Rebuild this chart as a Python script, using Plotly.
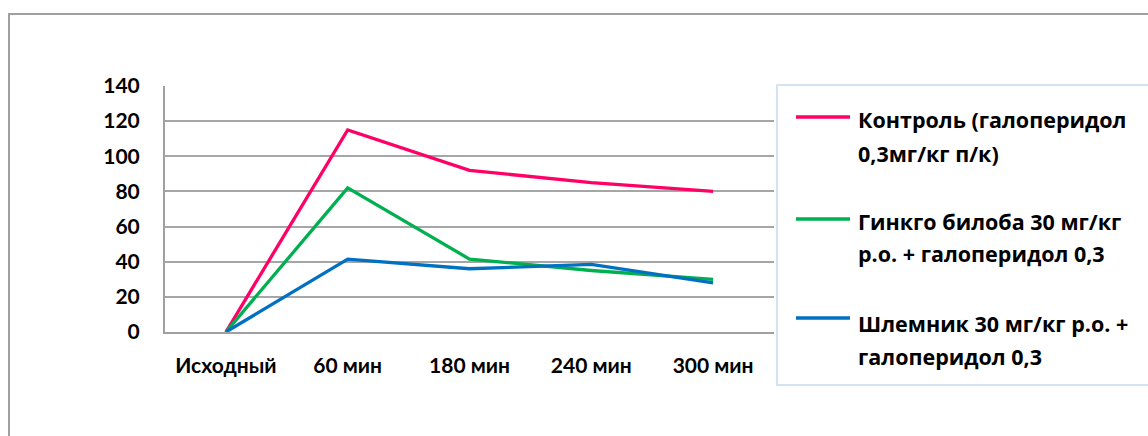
import plotly.graph_objects as go

categories = ["Исходный", "60 мин", "180 мин", "240 мин", "300 мин"]
control = [0, 115, 92, 85, 80]
ginkgo = [0, 82, 41.5, 35, 30]
shlemnik = [0, 41.5, 36, 38.5, 28]
series_names = [
    "Контроль (галоперидол 0,3мг/кг п/к)",
    "Гинкго билоба 30 мг/кг р.о. + галоперидол 0,3",
    "Шлемник 30 мг/кг р.о. + галоперидол 0,3",
]
legend_lines = [
    ["Контроль (галоперидол", "0,3мг/кг п/к)"],
    ["Гинкго билоба 30 мг/кг", "р.о. + галоперидол 0,3"],
    ["Шлемник 30 мг/кг р.о. +", "галоперидол 0,3"],
]
colors = ["#FF0066", "#00B050", "#0070C0"]

W, H = 1148, 436
L, R, T, B = 165, 774, 86, 332

def px(x):
    return (x - L) / (R - L)

def py(y):
    return (B - y) / (B - T)

fig = go.Figure()
for name, vals, col in zip(series_names, [control, ginkgo, shlemnik], colors):
    fig.add_trace(go.Scatter(x=categories, y=vals, mode="lines", name=name,
                             line=dict(color=col, width=3.3), showlegend=False))

TICKFONT = dict(family="Lato", size=21, color="black", weight="bold")
LEGFONT = dict(family="Open Sans", size=21.5, color="black", weight="bold")
shapes = []
annotations = []
# outer chart border
shapes.append(dict(type="rect", xref="paper", yref="paper",
                   x0=px(9), x1=px(1160), y0=py(14), y1=py(450),
                   line=dict(color="#A0A0A0", width=2), fillcolor="rgba(0,0,0,0)", layer="below"))
# legend box
shapes.append(dict(type="rect", xref="paper", yref="paper",
                   x0=px(777), x1=px(1160), y0=py(85), y1=py(385),
                   line=dict(color="#D5E2F2", width=2), fillcolor="white", layer="below"))
line_y = [117, 219, 318]
text_y = [(119, 153), (221, 254), (323, 356)]
for i in range(3):
    shapes.append(dict(type="line", xref="paper", yref="paper",
                       x0=px(796), x1=px(850), y0=py(line_y[i]), y1=py(line_y[i]),
                       line=dict(color=colors[i], width=3.3)))
    for txt, yy in zip(legend_lines[i], text_y[i]):
        annotations.append(dict(xref="paper", yref="paper", x=px(856), y=py(yy),
                                xanchor="left", yanchor="middle", showarrow=False,
                                text=txt, font=LEGFONT))

fig.update_layout(
    width=W, height=H,
    margin=dict(l=L, r=W - R, t=T, b=H - B),
    paper_bgcolor="white", plot_bgcolor="white",
    shapes=shapes, annotations=annotations,
    xaxis=dict(type="category", range=[-0.5, 4.5], showgrid=False,
               showline=True, linecolor="#A0A0A0", linewidth=2,
               ticks="", ticklabelstandoff=14, tickfont=TICKFONT),
    yaxis=dict(range=[0, 140], dtick=20, showgrid=True, gridcolor="#A6A6A6", gridwidth=1.5,
               showline=True, linecolor="#A0A0A0", linewidth=2, zeroline=False,
               ticks="", ticklabelstandoff=19, tickfont=TICKFONT),
)
fig.write_html("out.html", config={"displayModeBar": False},
               post_script="document.body.style.margin='0';")
